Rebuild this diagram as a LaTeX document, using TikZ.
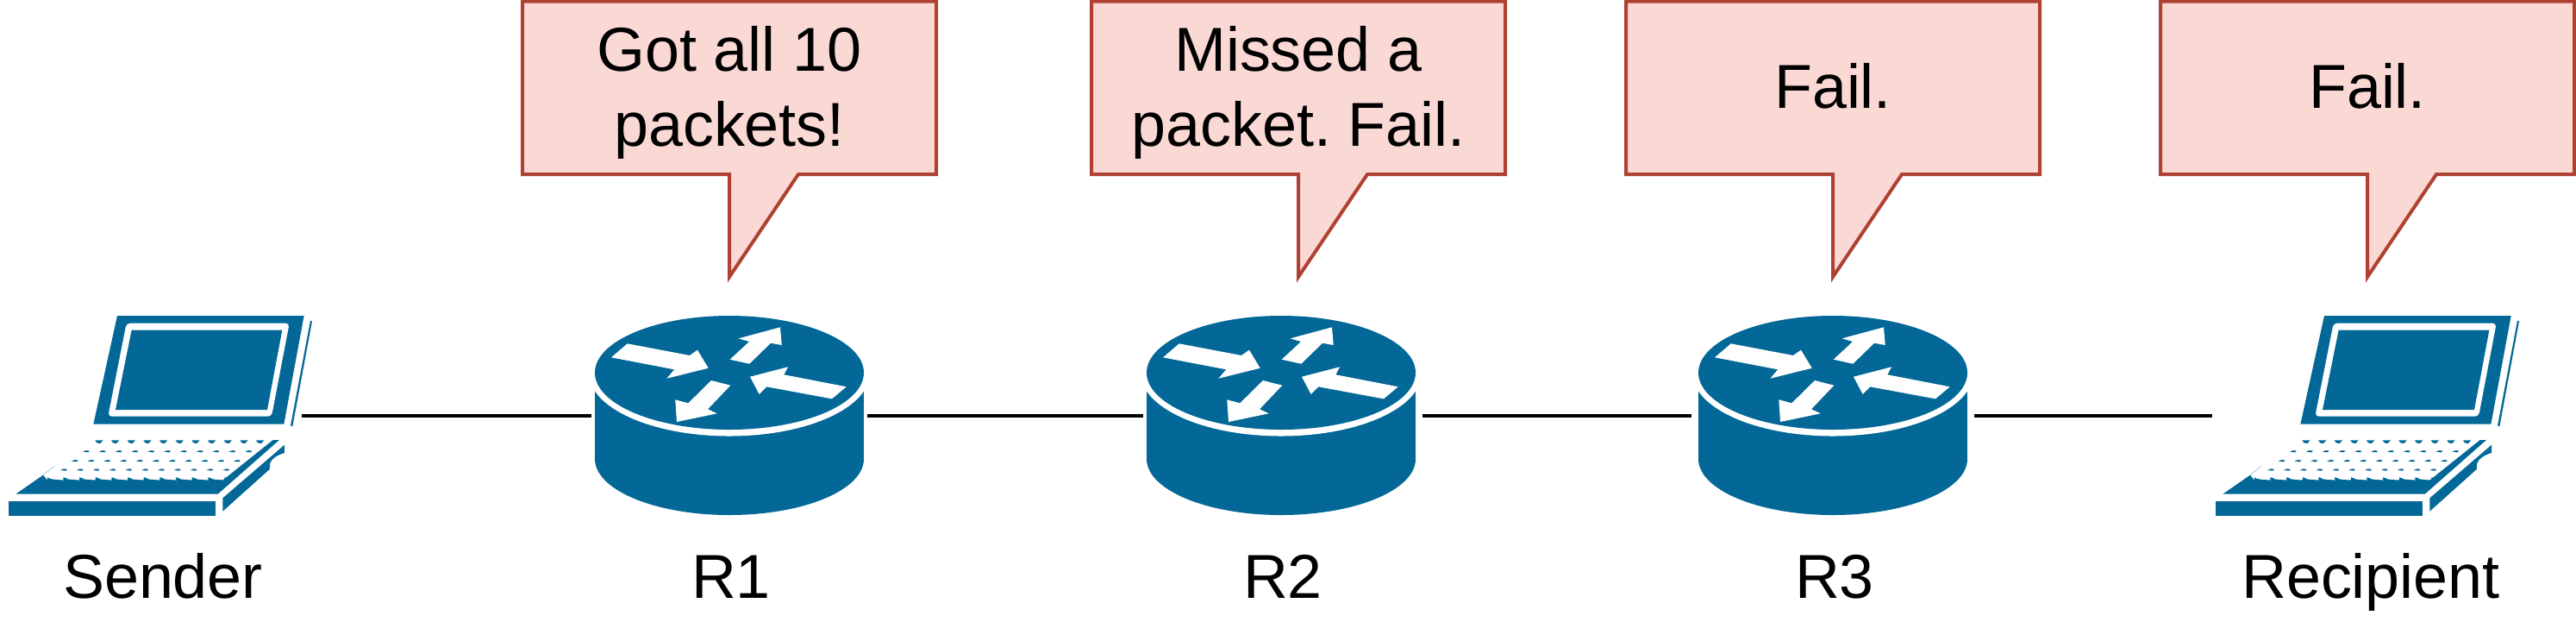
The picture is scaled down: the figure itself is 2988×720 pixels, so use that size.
\documentclass[tikz,border=0pt]{standalone}
\usepackage{fontspec}
\setmainfont{Liberation Sans}
\usetikzlibrary{positioning}

\definecolor{devblue}{HTML}{036897}
\definecolor{bubblefill}{HTML}{FAD9D5}
\definecolor{bubbleline}{HTML}{AE4132}

\tikzset{
 labeltext/.style={font=\fontsize{20.45}{24.6}\selectfont\frenchspacing, inner sep=0pt, align=center},
 devnode/.style={inner sep=0pt, outer sep=0pt, minimum height=2.3cm},
 link/.style={line width=1.14pt, black},
 router/.pic={
  \begin{scope}[shift={(0,-50)}]
   \fill[devblue] (-156,0) rectangle (156,100);
   \fill[devblue] (0,100) ellipse [x radius=156, y radius=65];
   \fill[white] (0,0) ellipse [x radius=163, y radius=73.5];
   \fill[devblue] (0,0) ellipse [x radius=156, y radius=66];
   %4 arrows on the lid
   \fill[white] (-137,-17.7) -- (-118.3,-33.7) -- (-46,-20) -- (-37,-26.3) -- (-24.3,-5.3) -- (-72.7,6.7) -- (-63.7,-3.7) -- cycle;
   \fill[white] (0.7,-15.3) -- (23,-36) -- (10.7,-39.7) -- (59,-52.7) -- (60.7,-32) -- (48,-34.3) -- (23.3,-10.3) -- cycle;
   \fill[white] (135.7,16.3) -- (119,30.3) -- (43.3,16.3) -- (34.7,25) -- (24,4.7) -- (68,-6.7) -- (63.3,2.3) -- cycle;
   \fill[white] (1.3,14.7) -- (-25,42.3) -- (-14.3,47.3) -- (-61,57) -- (-62.7,31.3) -- (-47.7,35.3) -- (-21,9) -- cycle;
  \end{scope}
 },
 laptop/.pic={
  \begin{scope}[scale=1/3]
   %lid
   \fill[devblue] (408,78) -- (1058,78) -- (988,455) -- (325,455) -- cycle;
   \fill[white, rounded corners=1.2pt] (440,104) -- (1007,104) -- (945,428) -- (376,428) -- cycle;
   \fill[devblue] (458,128) -- (982,128) -- (930,405) -- (402,405) -- cycle;
   \fill[devblue] (1080,95) -- (1086,97) -- (1018,463) -- (1011,460) -- cycle;
   %base
   \fill[devblue] (55,698) -- (758,698) -- (972,510) -- (950,510) -- (775,650) -- (775,654) -- (165,654) -- (165,650) -- (150,632) -- cycle;
   \fill[devblue] (30,723) rectangle (750,773);
   \fill[devblue] (775,712) -- (990,527) -- (990,555) .. controls (965,562) and (945,575) .. (940,590) -- (938,612) -- (775,758) -- cycle;
   \draw[devblue!40, line width=0.2pt] (150,632) -- (190,600);
   %keys
   \foreach \k in {0,...,10} {
    \fill[devblue] ({331+56*\k},511) -- ++(28,0) -- ++(-10,11) -- ++(-12,-2) -- cycle;
    \fill[devblue] ({300+56.5*\k-12},551) -- ++(12,-5) -- ++(12,2) -- ++(-5,5) -- cycle;
    \fill[devblue] ({260+56.5*\k-12},584) -- ++(12,-5) -- ++(12,2) -- ++(-5,5) -- cycle;
    \fill[devblue] ({222+56.5*\k-12},615) -- ++(12,-5) -- ++(12,2) -- ++(-5,5) -- cycle;
    \fill[devblue] ({165+56*\k},640) .. controls ++(8,12) and ++(48,12) .. ++(56,0) -- ++(0,16) -- ++(-56,0) -- cycle;
   }
  \end{scope}
 },
 bubble/.pic={
  \filldraw[fill=bubblefill, draw=bubbleline, line width=1.14pt]
   (-240,1.7) -- (240,1.7) -- (240,202) -- (80,202) -- (0,321) -- (0,202) -- (-240,202) -- cycle;
  \node[labeltext] (-text) at (0,108.5) {#1};
 },
}

\begin{document}
\begin{tikzpicture}[x=0.01cm, y=-0.01cm]
 \useasboundingbox (0,0) rectangle (2988,720);

 \node[devnode, minimum width=3.5cm] (sender) at (175,482) {};
 \node[devnode, minimum width=3.2cm] (R1) at (846,482) {};
 \node[devnode, minimum width=3.24cm] (R2) at (1488,482) {};
 \node[devnode, minimum width=3.28cm] (R3) at (2126,482) {};
 \node[devnode, minimum width=3.68cm] (recipient) at (2750,482) {};

 \draw[link] (sender) -- (R1);
 \draw[link] (R1) -- (R2);
 \draw[link] (R2) -- (R3);
 \draw[link] (R3) -- (recipient);

 \pic at (0,340) {laptop};
 \pic at (846,482) {router};
 \pic at (1486,482) {router};
 \pic at (2126,482) {router};
 \pic at (2560,340) {laptop};

 \node[labeltext, anchor=base] (senderlabel) at (189,693) {Sender};
 \node[labeltext, anchor=base] (R1label) at (848,693) {R1};
 \node[labeltext, anchor=base] (R2label) at (1488,693) {R2};
 \node[labeltext, anchor=base] (R3label) at (2128,693) {R3};
 \node[labeltext, anchor=base] (recipientlabel) at (2750,693) {Recipient};

 \pic (gotall) at (846,0) {bubble={\strut Got all 10\\packets!\strut}};
 \pic (missed) at (1506,0) {bubble={\strut Missed a\\packet. Fail.\strut}};
 \pic (failA) at (2126,0) {bubble={\strut Fail.}};
 \pic (failB) at (2746,0) {bubble={\strut Fail.}};
\end{tikzpicture}
\end{document}
